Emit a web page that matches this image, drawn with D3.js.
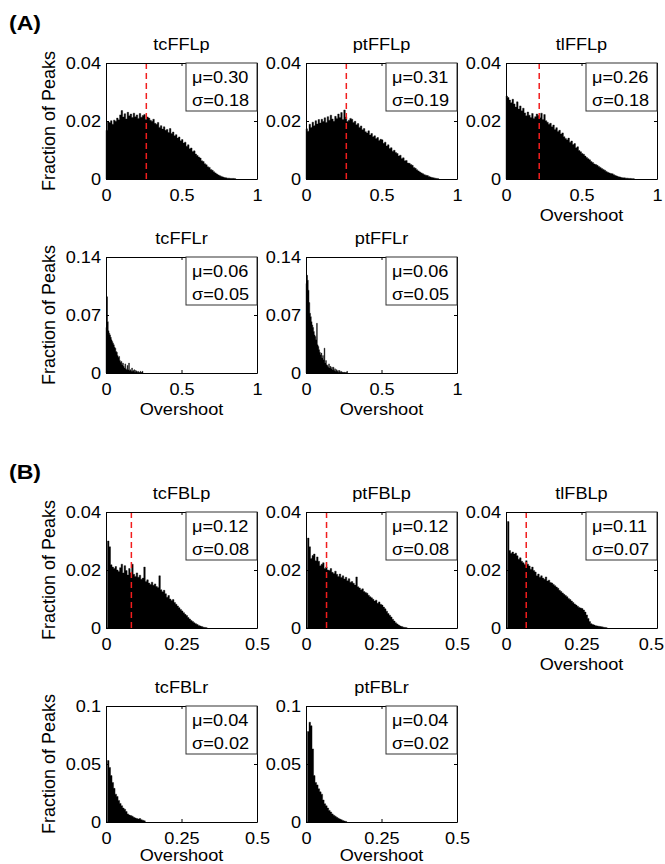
<!DOCTYPE html>
<html>
<head>
<meta charset="utf-8">
<script src="https://d3js.org/d3.v7.min.js"></script>
<style>
  body { margin: 0; background: #fff; }
  svg { font-family: "Liberation Sans", Arial, Helvetica, sans-serif; }
  .axis path { stroke: #000; }
  .axis line { stroke: #000; }
  .axis text { font-size: 16.5px; fill: #000; }
</style>
</head>
<body>
<script>
// panel titles, in reading order
var titles = ["tcFFLp", "ptFFLp", "tlFFLp", "tcFFLr", "ptFFLr",
              "tcFBLp", "ptFBLp", "tlFBLp", "tcFBLr", "ptFBLr"];

// mean / sd shown in the boxes
var means = ["0.30", "0.31", "0.26", "0.06", "0.06", "0.12", "0.12", "0.11", "0.04", "0.04"];
var sds   = ["0.18", "0.19", "0.18", "0.05", "0.05", "0.08", "0.08", "0.07", "0.02", "0.02"];

// dashed red marker (null = none)
var markers = [0.267, 0.267, 0.22, null, null, 0.084, 0.068, 0.067, null, null];

// bin widths
var binA = 0.01, binAr = 0.005, binB = 0.005;

// tick labels
var xTicksA = [0, 0.5, 1];
var xTicksB = [0, 0.25, 0.5];
var yTicksP = [0, 0.02, 0.04];
var yTicksAr = [0, 0.07, 0.14];
var yTicksBr = [0, 0.05, 0.1];

// histogram heights (fraction of peaks per bin)
var tcFFLp = [0.0168,0.0197,0.0195,0.0201,0.0189,0.0203,0.0199,0.0210,0.0204,0.0221,
  0.0236,0.0214,0.0225,0.0207,0.0230,0.0218,0.0224,0.0212,0.0227,0.0215,
  0.0221,0.0209,0.0226,0.0213,0.0219,0.0222,0.0205,0.0214,0.0210,0.0203,
  0.0199,0.0206,0.0192,0.0189,0.0195,0.0178,0.0184,0.0172,0.0180,0.0168,
  0.0171,0.0160,0.0174,0.0157,0.0162,0.0149,0.0153,0.0141,0.0145,0.0132,
  0.0136,0.0124,0.0127,0.0113,0.0118,0.0104,0.0107,0.0095,0.0097,0.0086,
  0.0081,0.0076,0.0072,0.0063,0.0060,0.0053,0.0049,0.0042,0.0040,0.0033,
  0.0030,0.0025,0.0021,0.0017,0.0014,0.0011,0.0009,0.0007,0.0005,0.0004,
  0.0003,0.0003,0.0002,0.0002,0.0002,0.0001];

var ptFFLp = [0.0173,0.0165,0.0189,0.0178,0.0196,0.0184,0.0201,0.0190,0.0205,0.0193,
  0.0206,0.0198,0.0211,0.0195,0.0215,0.0203,0.0220,0.0207,0.0199,0.0216,
  0.0209,0.0224,0.0212,0.0229,0.0205,0.0238,0.0214,0.0198,0.0203,0.0209,
  0.0206,0.0195,0.0199,0.0187,0.0191,0.0178,0.0183,0.0170,0.0174,0.0163,
  0.0159,0.0166,0.0152,0.0157,0.0146,0.0149,0.0140,0.0143,0.0133,0.0137,
  0.0135,0.0123,0.0127,0.0114,0.0118,0.0105,0.0108,0.0096,0.0099,0.0091,
  0.0088,0.0079,0.0082,0.0071,0.0073,0.0063,0.0064,0.0055,0.0054,0.0050,
  0.0047,0.0040,0.0037,0.0032,0.0028,0.0024,0.0021,0.0018,0.0015,0.0013,
  0.0012,0.0009,0.0007,0.0005,0.0004,0.0003,0.0002,0.0001];

var tlFFLp = [0.0286,0.0281,0.0272,0.0263,0.0275,0.0259,0.0248,0.0266,0.0241,0.0252,
  0.0235,0.0244,0.0228,0.0218,0.0231,0.0220,0.0212,0.0226,0.0209,0.0215,
  0.0224,0.0219,0.0211,0.0227,0.0205,0.0222,0.0201,0.0196,0.0189,0.0192,
  0.0180,0.0186,0.0171,0.0177,0.0164,0.0168,0.0155,0.0159,0.0146,0.0140,
  0.0135,0.0141,0.0127,0.0131,0.0119,0.0122,0.0108,0.0111,0.0098,0.0094,
  0.0088,0.0085,0.0079,0.0074,0.0070,0.0066,0.0060,0.0057,0.0052,0.0050,
  0.0047,0.0043,0.0040,0.0036,0.0033,0.0030,0.0026,0.0023,0.0021,0.0019,
  0.0018,0.0015,0.0012,0.0010,0.0008,0.0007,0.0005,0.0004,0.0004,0.0003,
  0.0003,0.0002,0.0002,0.0001,0.0001];

var tcFFLr = [0.055,0.092,0.062,0.051,0.048,0.046,0.043,0.040,0.038,0.036,
  0.034,0.031,0.030,0.026,0.025,0.021,0.019,0.020,0.015,0.013,
  0.014,0.010,0.012,0.008,0.006,0.011,0.005,0.004,0.009,0.004,
  0.012,0.003,0.004,0.002,0.006,0.002,0.003,0.004,0.001,0.003,
  0.002,0.001,0.002,0.001,0.0005,0.002,0.0005,0.001,0.002];

var ptFFLr = [0.108,0.118,0.112,0.100,0.085,0.072,0.068,0.062,0.058,0.055,
  0.050,0.046,0.044,0.040,0.060,0.034,0.032,0.028,0.025,0.022,
  0.024,0.018,0.021,0.016,0.030,0.012,0.015,0.010,0.009,0.007,
  0.011,0.006,0.008,0.005,0.007,0.004,0.007,0.003,0.005,0.002,
  0.004,0.002,0.003,0.001,0.003,0.001,0.002,0.001,0.001,0.0005,
  0.001,0.0005,0.0005,0.0005,0.002];

var tcFBLp = [0,0.0300,0.0280,0.0218,0.0210,0.0205,0.0212,0.0200,0.0195,0.0208,
  0.0220,0.0190,0.0215,0.0198,0.0183,0.0205,0.0190,0.0220,0.0185,0.0178,
  0.0190,0.0175,0.0182,0.0168,0.0172,0.0210,0.0160,0.0166,0.0155,0.0150,
  0.0158,0.0147,0.0152,0.0143,0.0140,0.0180,0.0132,0.0125,0.0130,0.0118,
  0.0106,0.0112,0.0100,0.0095,0.0098,0.0088,0.0082,0.0076,0.0070,0.0064,
  0.0059,0.0053,0.0047,0.0043,0.0036,0.0031,0.0026,0.0022,0.0018,0.0015,
  0.0012,0.0009,0.0007,0.0005,0.0003,0.0002,0.0001];

var ptFBLp = [0,0.0310,0.0280,0.0240,0.0250,0.0255,0.0232,0.0245,0.0230,0.0215,
  0.0220,0.0225,0.0205,0.0210,0.0200,0.0198,0.0205,0.0192,0.0188,0.0196,
  0.0185,0.0178,0.0186,0.0174,0.0180,0.0169,0.0175,0.0163,0.0170,0.0158,
  0.0160,0.0154,0.0148,0.0176,0.0142,0.0138,0.0132,0.0135,0.0126,0.0122,
  0.0120,0.0113,0.0108,0.0104,0.0099,0.0093,0.0096,0.0085,0.0090,0.0082,
  0.0079,0.0072,0.0066,0.0058,0.0050,0.0044,0.0038,0.0030,0.0024,0.0018,
  0.0014,0.0010,0.0007,0.0005,0.0003,0.0002,0.0001];

var tlFBLp = [0,0.0367,0.0267,0.0258,0.0262,0.0255,0.0258,0.0249,0.0237,0.0242,
  0.0230,0.0225,0.0219,0.0232,0.0220,0.0214,0.0203,0.0210,0.0198,0.0193,
  0.0180,0.0186,0.0175,0.0180,0.0172,0.0168,0.0176,0.0162,0.0165,0.0157,
  0.0155,0.0150,0.0146,0.0141,0.0137,0.0130,0.0126,0.0121,0.0116,0.0112,
  0.0108,0.0102,0.0098,0.0093,0.0088,0.0083,0.0079,0.0075,0.0071,0.0069,
  0.0067,0.0062,0.0055,0.0045,0.0033,0.0022,0.0015,0.0012,0.0010,0.0008,
  0.0007,0.0006,0.0005,0.0004,0.0003,0.0002,0.0001];

var tcFBLr = [0,0.053,0.047,0.040,0.034,0.029,0.024,0.022,0.0186,0.016,
  0.014,0.012,0.011,0.009,0.007,0.006,0.0055,0.005,0.004,0.0035,
  0.003,0.0025,0.003,0.002,0.0015,0.001];

var ptFBLr = [0,0.078,0.086,0.083,0.063,0.040,0.034,0.032,0.0286,0.026,
  0.024,0.019,0.0157,0.014,0.012,0.010,0.0086,0.007,0.0058,0.005,
  0.004,0.0032,0.0025,0.002,0.0012,0.0008,0.0005];

var histData = [tcFFLp, ptFFLp, tlFFLp, tcFFLr, ptFFLr, tcFBLp, ptFBLp, tlFBLp, tcFBLr, ptFBLr];
var bins = [binA, binA, binA, binAr, binAr, binB, binB, binB, binB, binB];
var xTickSets = [xTicksA, xTicksA, xTicksA, xTicksA, xTicksA, xTicksB, xTicksB, xTicksB, xTicksB, xTicksB];
var yTickSets = [yTicksP, yTicksP, yTicksP, yTicksAr, yTicksAr, yTicksP, yTicksP, yTicksP, yTicksBr, yTicksBr];

// layout
var W = 665, H = 864;
var colLeft = [106, 306, 506];
var rowTop = [63, 257, 512, 706];
var pw = 151, ph = 116;
var cells = [[0,0],[0,1],[0,2],[1,0],[1,1],[2,0],[2,1],[2,2],[3,0],[3,1]];
var withXlabel = [false, false, true, true, true, false, false, true, true, true];
var stretch = 1.1;  // the source font runs a bit wide

var svg = d3.select("body").append("svg")
    .attr("width", W)
    .attr("height", H);

// text widened horizontally around its anchor
function wideText(sel, x, y, size, str, anchor) {
  return sel.append("text")
    .attr("transform", "translate(" + x + "," + y + ") scale(" + stretch + ",1)")
    .attr("text-anchor", anchor || "start")
    .style("font-size", size + "px")
    .text(str);
}

wideText(svg, 9, 30, 21, "(A)").style("font-weight", "bold");
wideText(svg, 9, 479, 21, "(B)").style("font-weight", "bold");

var fmt = function(d) { return String(d); };

function widenTicks(axisG) {
  axisG.selectAll(".tick text").each(function() {
    var t = d3.select(this);
    var tx = +t.attr("x") || 0, ty = +t.attr("y") || 0;
    t.attr("x", 0).attr("y", 0)
     .attr("transform", "translate(" + tx + "," + ty + ") scale(" + stretch + ",1)");
    // keep labels at the right page edge inside the picture
    var box = this.getBoundingClientRect();
    if (box.right > W - 1) {
      t.attr("transform", "translate(" + (tx - (box.right - W + 1)) + "," + ty + ") scale(" + stretch + ",1)");
    }
  });
}

titles.forEach(function(t, k) {
  var r = cells[k][0], c = cells[k][1];
  var left = colLeft[c], top = rowTop[r];
  var xt = xTickSets[k], yt = yTickSets[k];
  var x = d3.scaleLinear().domain([0, xt[xt.length-1]]).range([left, left + pw]);
  var y = d3.scaleLinear().domain([0, yt[yt.length-1]]).range([top + ph, top]);

  var g = svg.append("g");
  var bw = bins[k];
  var vals = histData[k];

  // histogram as one stepped area so bars have no seams
  var pts = vals.map(function(v, i) { return [i * bw, v]; });
  pts.push([vals.length * bw, vals[vals.length - 1]]);
  var area = d3.area()
    .x(function(d) { return x(d[0]); })
    .y0(y(0))
    .y1(function(d) { return y(d[1]); })
    .curve(d3.curveStepAfter);
  g.append("path").datum(pts)
    .attr("d", area)
    .attr("fill", "#000")
    .attr("stroke", "#000")
    .attr("stroke-width", 0.4);

  // median marker
  if (markers[k] != null) {
    g.append("line")
      .attr("x1", x(markers[k])).attr("x2", x(markers[k]))
      .attr("y1", y.range()[1]).attr("y2", y.range()[0])
      .attr("stroke", "#f01e1e").attr("stroke-width", 1.5)
      .attr("stroke-dasharray", "6,4");
  }

  // axes, ticks inside like matlab
  var xa = g.append("g").attr("class", "axis")
    .attr("transform", "translate(0," + (top + ph) + ")")
    .call(d3.axisBottom(x).tickValues(xt).tickFormat(fmt).tickSize(-3).tickPadding(10).tickSizeOuter(0));
  widenTicks(xa);
  var ya = g.append("g").attr("class", "axis")
    .attr("transform", "translate(" + left + ",0)")
    .call(d3.axisLeft(y).tickValues(yt).tickFormat(fmt).tickSize(-3).tickPadding(5).tickSizeOuter(0));
  widenTicks(ya);
  g.append("g").attr("class", "axis")
    .attr("transform", "translate(0," + top + ")")
    .call(d3.axisTop(x).tickValues(xt).tickFormat("").tickSize(-3).tickSizeOuter(0));
  g.append("g").attr("class", "axis")
    .attr("transform", "translate(" + (left + pw) + ",0)")
    .call(d3.axisRight(y).tickValues(yt).tickFormat("").tickSize(-3).tickSizeOuter(0));

  // stats box
  var bx = left + pw - 71;
  g.append("rect").attr("x", bx).attr("y", top).attr("width", 71).attr("height", 48)
    .attr("fill", "#fff").attr("stroke", "#333").attr("stroke-width", 1);
  wideText(g, bx + 6, top + 20, 16.5, "\u03bc=" + means[k]);
  wideText(g, bx + 6, top + 43, 16.5, "\u03c3=" + sds[k]);

  // title
  wideText(g, left + pw / 2, top - 13, 16.5, t, "middle");

  if (c === 0) {
    g.append("text")
      .attr("transform", "translate(55," + (top + ph / 2) + ") rotate(-90)")
      .attr("text-anchor", "middle").style("font-size", "18px").text("Fraction of Peaks");
  }
  if (withXlabel[k]) {
    wideText(g, left + pw / 2, Math.min(top + ph + 42, H - 3), 16.5, "Overshoot", "middle");
  }
});
</script>
</body>
</html>
